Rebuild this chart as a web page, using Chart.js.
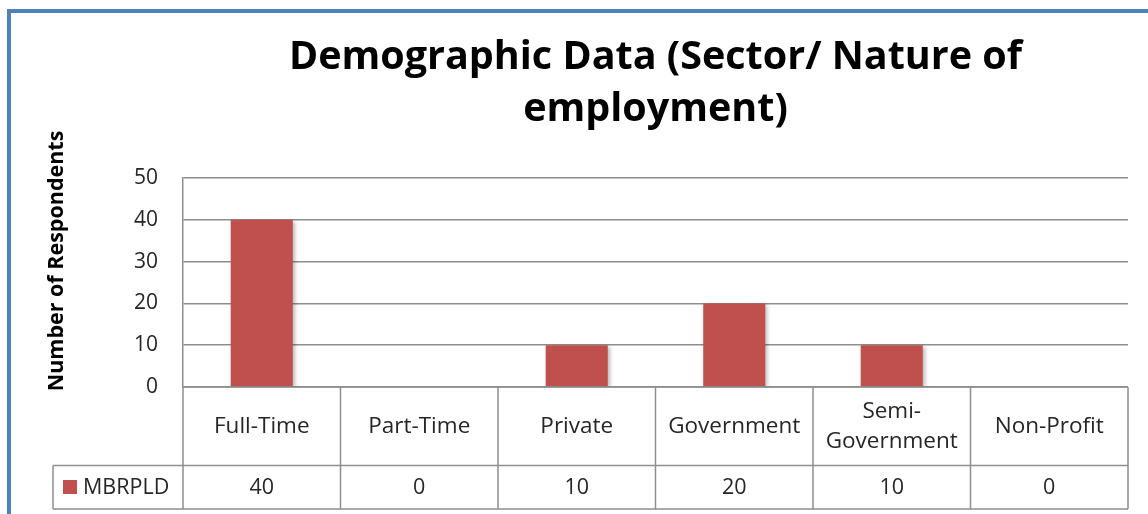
<!DOCTYPE html>
<html>
<head>
<meta charset="utf-8">
<title>Demographic Data (Sector/ Nature of employment)</title>
<script src="https://cdn.jsdelivr.net/npm/chart.js@4.4.1/dist/chart.umd.min.js"></script>
<style>
  html, body { margin: 0; padding: 0; background: #fff; }
  #wrap { width: 1148px; height: 514px; }
</style>
</head>
<body>
<div id="wrap"><canvas id="sectorChart" width="1148" height="514"></canvas></div>
<script>
// categories along the bottom (array = multi-line label)
const categories = [['Full-Time'], ['Part-Time'], ['Private'], ['Government'], ['Semi-', 'Government'], ['Non-Profit']];
const seriesName = 'MBRPLD';
const respondents = [40, 0, 10, 20, 10, 0];
const yTickValues = [0, 10, 20, 30, 40, 50];
const titleLines = ['Demographic Data (Sector/ Nature of', 'employment)'];
const yAxisTitle = 'Number of Respondents';

const FONT = '"Open Sans", Lato, sans-serif';
const BAR_RED = '#C0504D';
const LINE_GREY = '#8e8e8e';
const TEXT = '#262626';

// frame, titles and the data table under the plot
const tablePlugin = {
    id: 'tablePlugin',
    beforeDraw(chart) {
        const ctx = chart.ctx;
        ctx.save();
        ctx.strokeStyle = '#4F81BD';
        ctx.lineWidth = 4;
        ctx.strokeRect(9, 11, 1200, 600);
        ctx.restore();
    },
    beforeDatasetsDraw(chart) {
        const ctx = chart.ctx;
        ctx.save();
        ctx.shadowColor = 'rgba(0,0,0,0.28)';
        ctx.shadowBlur = 4;
        ctx.shadowOffsetX = 2;
        ctx.shadowOffsetY = 2;
    },
    afterDatasetsDraw(chart) {
        chart.ctx.restore();
    },
    afterDraw(chart) {
        const ctx = chart.ctx;
        const area = chart.chartArea;
        const x = chart.scales.x;
        const colW = (area.right - area.left) / categories.length;
        const rowTop = area.bottom;
        const valTop = 465.5;
        const tableBottom = 509;
        const keyLeft = 53;

        ctx.save();
        // title
        ctx.fillStyle = '#000';
        ctx.textAlign = 'center';
        ctx.textBaseline = 'alphabetic';
        ctx.font = 'bold 39.5px ' + FONT;
        const cx = (area.left + area.right) / 2;
        ctx.fillText(titleLines[0], cx, 69);
        ctx.fillText(titleLines[1], cx, 121);

        // y axis title
        ctx.save();
        ctx.translate(57, 261);
        ctx.rotate(-Math.PI / 2);
        ctx.font = 'bold 21.5px ' + FONT;
        ctx.textBaseline = 'middle';
        ctx.fillText(yAxisTitle, 0, 0);
        ctx.restore();

        // table lines
        ctx.strokeStyle = LINE_GREY;
        ctx.lineWidth = 1.5;
        ctx.beginPath();
        ctx.moveTo(area.left, rowTop); ctx.lineTo(area.right, rowTop);
        ctx.moveTo(keyLeft, valTop); ctx.lineTo(area.right, valTop);
        ctx.moveTo(keyLeft, tableBottom); ctx.lineTo(area.right, tableBottom);
        ctx.moveTo(keyLeft, valTop); ctx.lineTo(keyLeft, tableBottom);
        for (let i = 0; i <= categories.length; i++) {
            const lx = area.left + i * colW;
            ctx.moveTo(lx, rowTop); ctx.lineTo(lx, tableBottom);
        }
        ctx.stroke();

        // category names and values
        ctx.fillStyle = TEXT;
        ctx.textBaseline = 'middle';
        const lineH = 30;
        categories.forEach((lines, i) => {
            const px = x.getPixelForValue(i);
            const midY = (rowTop + valTop) / 2;
            ctx.font = '22.5px ' + FONT;
            lines.forEach((t, k) => {
                ctx.fillText(t, px, midY + (k - (lines.length - 1) / 2) * lineH);
            });
            ctx.font = '21.5px ' + FONT;
            ctx.fillText(String(respondents[i]), px, (valTop + tableBottom) / 2 + 1);
        });

        // series key
        ctx.fillStyle = BAR_RED;
        ctx.fillRect(63, 480, 14, 14);
        ctx.fillStyle = TEXT;
        ctx.textAlign = 'left';
        ctx.font = '21.5px ' + FONT;
        ctx.fillText(seriesName, 83, (valTop + tableBottom) / 2 + 1);
        ctx.restore();
    }
};

new Chart(document.getElementById('sectorChart'), {
    type: 'bar',
    data: {
        labels: categories,
        datasets: [{
            label: seriesName,
            data: respondents,
            backgroundColor: BAR_RED,
            borderWidth: 0,
            categoryPercentage: 1,
            barPercentage: 0.394
        }]
    },
    options: {
        responsive: false,
        animation: false,
        layout: { padding: { left: 0, top: 178, right: 20, bottom: 127 } },
        plugins: {
            legend: { display: false },
            tooltip: { enabled: false }
        },
        scales: {
            x: { display: false },
            y: {
                min: 0,
                max: 50,
                afterBuildTicks: s => { s.ticks = yTickValues.map(v => ({ value: v })); },
                afterFit: s => { s.width = 183; },
                ticks: { color: TEXT, font: { family: FONT, size: 21 }, padding: 25 },
                grid: { color: LINE_GREY, lineWidth: 1.5, drawTicks: false },
                border: { display: true, color: LINE_GREY, width: 1.5 }
            }
        }
    },
    plugins: [tablePlugin]
});
</script>
</body>
</html>
